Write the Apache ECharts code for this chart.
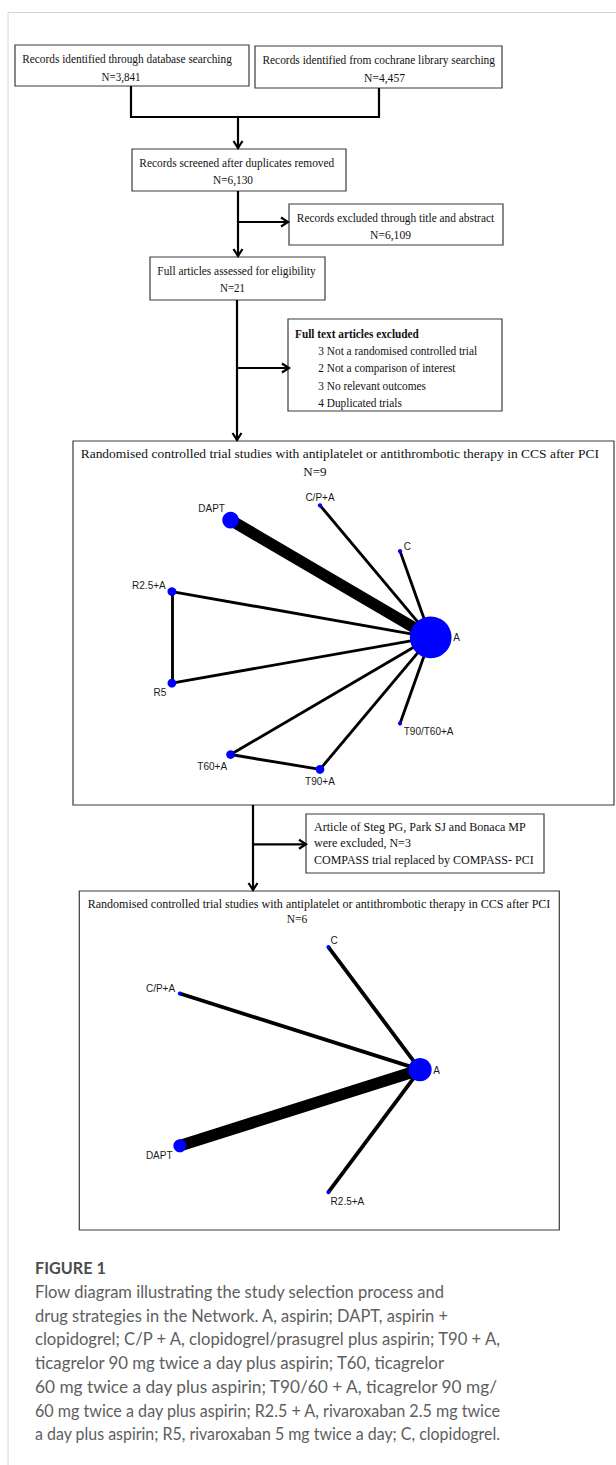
<!DOCTYPE html>
<html>
<head>
<meta charset="utf-8">
<script src="https://cdn.jsdelivr.net/npm/echarts@6/dist/echarts.min.js"></script>
<style>
  html, body { margin: 0; padding: 0; background: #fff; }
  #wrap { position: relative; width: 616px; height: 1465px; overflow: hidden; }
  #chart { position: absolute; left: 0; top: 0; width: 616px; height: 1465px; }
  #figTitle { position: absolute; left: 35px; top: 1256px; font-family: Lato, 'Open Sans', sans-serif;
              font-weight: 700; font-size: 16.2px; line-height: 24px; color: #4d4d4d; white-space: nowrap; }
  #figText { position: absolute; left: 35px; top: 1281px; font-family: Lato, 'Open Sans', sans-serif;
             font-weight: 400; font-size: 16.6px; line-height: 23.7px; color: #5e5e5e; white-space: nowrap; }
  #figText span { display: inline-block; transform-origin: 0 50%; }
</style>
</head>
<body>
<div id="wrap">
  <div id="chart"></div>
  <div id="figTitle"></div>
  <div id="figText"></div>
</div>
<script>
// ---- Study selection counts ----
const recordsDatabase = 3841;
const recordsCochrane = 4457;
const recordsScreened = 6130;
const recordsExcluded = 6109;
const fullArticles = 21;
const exclusionCounts = [3, 2, 3, 4];
const exclusionReasons = ['Not a randomised controlled trial', 'Not a comparison of interest',
                          'No relevant outcomes', 'Duplicated trials'];
const networkStudies1 = 9;
const networkStudies2 = 6;
const removedStudies = 3;

// ---- Network 1 (all trials) ----
const net1Names   = ['A', 'C', 'C/P+A', 'DAPT', 'R2.5+A', 'R5', 'T60+A', 'T90+A', 'T90/T60+A'];
const net1X       = [1.00, 0.77, 0.17, -0.50, -0.94, -0.94, -0.50, 0.17, 0.77];
const net1Y       = [0.00, 0.64, 0.98, 0.87, 0.34, -0.34, -0.87, -0.98, -0.64];
const net1Weight  = [100, 1, 1, 16, 4.4, 4.4, 4.4, 4.4, 1];
const net1Source  = ['DAPT', 'C/P+A', 'C', 'R2.5+A', 'R5', 'R2.5+A', 'T60+A', 'T90+A', 'T60+A', 'T90/T60+A'];
const net1Target  = ['A', 'A', 'A', 'A', 'A', 'R5', 'A', 'A', 'T90+A', 'A'];
const net1Trials  = [4, 1, 1, 1, 1, 1, 1, 1, 1, 1];

// ---- Network 2 (after exclusions) ----
const net2Names   = ['A', 'C', 'C/P+A', 'DAPT', 'R2.5+A'];
const net2X       = [1.00, 0.31, -0.81, -0.81, 0.31];
const net2Y       = [0.00, 0.95, 0.59, -0.59, -0.95];
const net2Weight  = [100, 3, 3, 31, 3];
const net2Source  = ['DAPT', 'C/P+A', 'C', 'R2.5+A'];
const net2Target  = ['A', 'A', 'A', 'A'];
const net2Trials  = [3, 1, 1, 1];

// ---- Caption ----
const captionTitle = 'FIGURE 1';
const captionLines = [
  'Flow diagram illustrating the study selection process and',
  'drug strategies in the Network. A, aspirin; DAPT, aspirin +',
  'clopidogrel; C/P + A, clopidogrel/prasugrel plus aspirin; T90 + A,',
  'ticagrelor 90 mg twice a day plus aspirin; T60, ticagrelor',
  '60 mg twice a day plus aspirin; T90/60 + A, ticagrelor 90 mg/',
  '60 mg twice a day plus aspirin; R2.5 + A, rivaroxaban 2.5 mg twice',
  'a day plus aspirin; R5, rivaroxaban 5 mg twice a day; C, clopidogrel.'
];

const fmt = n => n.toLocaleString('en-US');
const netTitle = 'Randomised controlled trial studies with antiplatelet or antithrombotic therapy in CCS after PCI';

// ---------------------------------------------------------------------------
const SERIF = "'Liberation Serif', 'Times New Roman', serif";
const measureCtx = document.createElement('canvas').getContext('2d');

// Text squeezed horizontally to a given width (the flow-box lettering is condensed)
function fitText(str, anchorX, y, width, align, size, weight) {
  const font = (weight || 'normal') + ' ' + size + 'px ' + SERIF;
  measureCtx.font = font;
  const w = measureCtx.measureText(str).width;
  return {
    type: 'text', x: anchorX, y: y, scaleX: width / w, z: 10,
    style: { text: str, font: font, fill: '#111',
             align: align, verticalAlign: 'middle', textAlign: align, textVerticalAlign: 'middle' }
  };
}
function box(x, y, w, h) {
  return { type: 'rect', shape: { x: x, y: y, width: w, height: h }, z: 5,
           style: { fill: '#fff', stroke: '#3a3a3a', lineWidth: 1.2 } };
}
function line(points) {
  return { type: 'polyline', shape: { points: points }, z: 6,
           style: { stroke: '#000', lineWidth: 2.2, fill: null } };
}
function arrowDown(x, y) {
  return { type: 'polyline', shape: { points: [[x - 4.5, y - 7], [x, y], [x + 4.5, y - 7]] }, z: 6,
           style: { stroke: '#000', lineWidth: 2.2, fill: null } };
}
function arrowRight(x, y) {
  return { type: 'polyline', shape: { points: [[x - 7, y - 4.5], [x, y], [x - 7, y + 4.5]] }, z: 6,
           style: { stroke: '#000', lineWidth: 2.2, fill: null } };
}

const TS = 12.5;
const graphics = [
  // page frame
  { type: 'polyline', shape: { points: [[8, 1465], [8, 12.5], [616, 12.5]] }, z: 1,
    style: { stroke: '#d4d4d4', lineWidth: 1, fill: null } },

  // identification
  box(15, 45, 234, 41),
  fitText('Records identified through database searching', 127, 59, 210, 'center', TS),
  fitText('N=' + fmt(recordsDatabase), 121, 77, 39, 'center', TS),
  box(255, 46, 247, 42),
  fitText('Records identified from cochrane library searching', 378.7, 60, 232.7, 'center', TS),
  fitText('N=' + fmt(recordsCochrane), 384.5, 77.5, 41, 'center', TS),
  line([[131, 86], [131, 117], [379, 117], [379, 88]]),
  line([[238, 117], [238, 148]]), arrowDown(238, 148),

  // screening
  box(132, 149, 214, 42),
  fitText('Records screened after duplicates removed', 236.8, 163, 195, 'center', TS),
  fitText('N=' + fmt(recordsScreened), 233, 180, 40, 'center', TS),
  line([[238, 191], [238, 256]]), arrowDown(238, 256),
  line([[238, 222], [288, 222]]), arrowRight(288, 222),
  box(289, 204, 214, 41),
  fitText('Records excluded through title and abstract', 395.5, 218, 197.6, 'center', TS),
  fitText('N=' + fmt(recordsExcluded), 390.5, 235, 41, 'center', TS),

  // eligibility
  box(150, 257, 175, 43),
  fitText('Full articles assessed for eligibility', 236.5, 271, 158.4, 'center', TS),
  fitText('N=' + fullArticles, 232.5, 288, 25, 'center', TS),
  line([[237, 300], [237, 440]]), arrowDown(237, 440),
  line([[237, 368], [289, 368]]), arrowRight(289, 368),
  box(288, 319, 214, 92),
  fitText('Full text articles excluded', 295, 334, 124, 'left', TS, 'bold'),
  fitText(exclusionCounts[0] + ' ' + exclusionReasons[0], 318.3, 351, 159, 'left', TS),
  fitText(exclusionCounts[1] + ' ' + exclusionReasons[1], 318.3, 368, 137.4, 'left', TS),
  fitText(exclusionCounts[2] + ' ' + exclusionReasons[2], 318.3, 385.5, 107.7, 'left', TS),
  fitText(exclusionCounts[3] + ' ' + exclusionReasons[3], 318.3, 403, 83.7, 'left', TS),

  // first network
  box(73, 441, 541, 364),
  fitText(netTitle, 339.8, 454, 518.3, 'center', TS),
  fitText('N=' + networkStudies1, 315, 471.7, 23.3, 'center', TS),

  // second network
  line([[253, 805], [253, 890]]), arrowDown(253, 890),
  line([[253, 844.3], [306, 844.3]]), arrowRight(306, 844.3),
  box(306, 814, 238, 59),
  fitText('Article of Steg PG, Park SJ and Bonaca MP', 314, 826.5, 212, 'left', TS),
  fitText('were excluded, N=' + removedStudies, 314, 843, 97, 'left', TS),
  fitText('COMPASS trial replaced by COMPASS- PCI', 314, 859.5, 220, 'left', TS),
  box(79.3, 891, 480, 339),
  fitText(netTitle, 319, 904.3, 463.4, 'center', TS),
  fitText('N=' + networkStudies2, 297, 919.3, 20.6, 'center', TS)
];

// label offsets (label centre relative to node centre)
const labelOffset1 = {
  'A': [26, 0.5], 'C': [7.3, -5], 'C/P+A': [0, -7.6], 'DAPT': [-19, -11.7], 'R2.5+A': [-23, -6.3],
  'R5': [-12, 9.7], 'T60+A': [-18.4, 11.7], 'T90+A': [0, 12.3], 'T90/T60+A': [28.6, 8.3]
};
const labelOffset2 = {
  'A': [16.7, 0.7], 'C': [5.7, -6.3], 'C/P+A': [-19.3, -5], 'DAPT': [-20.6, 10], 'R2.5+A': [19, 9.4]
};

function networkSeries(idx, names, xs, ys, weights, src, tgt, trials, maxSymbol, maxEdge, offsets) {
  const maxW = Math.max.apply(null, weights);
  const maxT = Math.max.apply(null, trials);
  return {
    type: 'graph',
    coordinateSystem: 'cartesian2d',
    xAxisIndex: idx, yAxisIndex: idx,
    silent: true,
    z: 20,
    symbol: 'circle',
    itemStyle: { color: '#0000ff', opacity: 1 },
    lineStyle: { color: '#000', opacity: 1, curveness: 0 },
    label: { show: true, position: 'inside', color: '#1a1a1a', fontSize: 10,
             fontFamily: "'Liberation Sans', Arial, sans-serif" },
    emphasis: { disabled: true },
    data: names.map((n, i) => ({
      name: n,
      value: [xs[i], ys[i]],
      symbolSize: maxSymbol * Math.sqrt(weights[i] / maxW),
      label: { offset: offsets[n] }
    })),
    links: src.map((s, i) => ({
      source: s, target: tgt[i],
      lineStyle: { width: maxEdge * trials[i] / maxT }
    }))
  };
}

const hiddenAxis = { type: 'value', min: -1, max: 1, show: false, splitLine: { show: false } };

const chart = echarts.init(document.getElementById('chart'), null, { renderer: 'svg' });
chart.setOption({
  animation: false,
  backgroundColor: '#fff',
  grid: [
    { left: 163.9, top: 502.65, width: 266.8, height: 269.4 },
    { left: 154.6, top: 940.65, width: 265.4, height: 258.0 }
  ],
  xAxis: [Object.assign({ gridIndex: 0 }, hiddenAxis), Object.assign({ gridIndex: 1 }, hiddenAxis)],
  yAxis: [Object.assign({ gridIndex: 0 }, hiddenAxis), Object.assign({ gridIndex: 1 }, hiddenAxis)],
  graphic: { elements: graphics },
  series: [
    networkSeries(0, net1Names, net1X, net1Y, net1Weight, net1Source, net1Target, net1Trials, 41.7, 11.5, labelOffset1),
    networkSeries(1, net2Names, net2X, net2Y, net2Weight, net2Source, net2Target, net2Trials, 23.3, 11.5, labelOffset2)
  ]
});

// Caption: each line set at the column's ragged-right widths
document.getElementById('figTitle').textContent = captionTitle;
const captionRight = [444, 448, 500, 444, 497, 500, 500];
const figText = document.getElementById('figText');
captionLines.forEach((s, i) => {
  const row = document.createElement('div');
  const span = document.createElement('span');
  span.textContent = s;
  row.appendChild(span);
  figText.appendChild(row);
  const w = span.getBoundingClientRect().width;
  const target = captionRight[i] - 35;
  if (w > 0) span.style.transform = 'scaleX(' + (target / w).toFixed(4) + ')';
});
</script>
</body>
</html>
